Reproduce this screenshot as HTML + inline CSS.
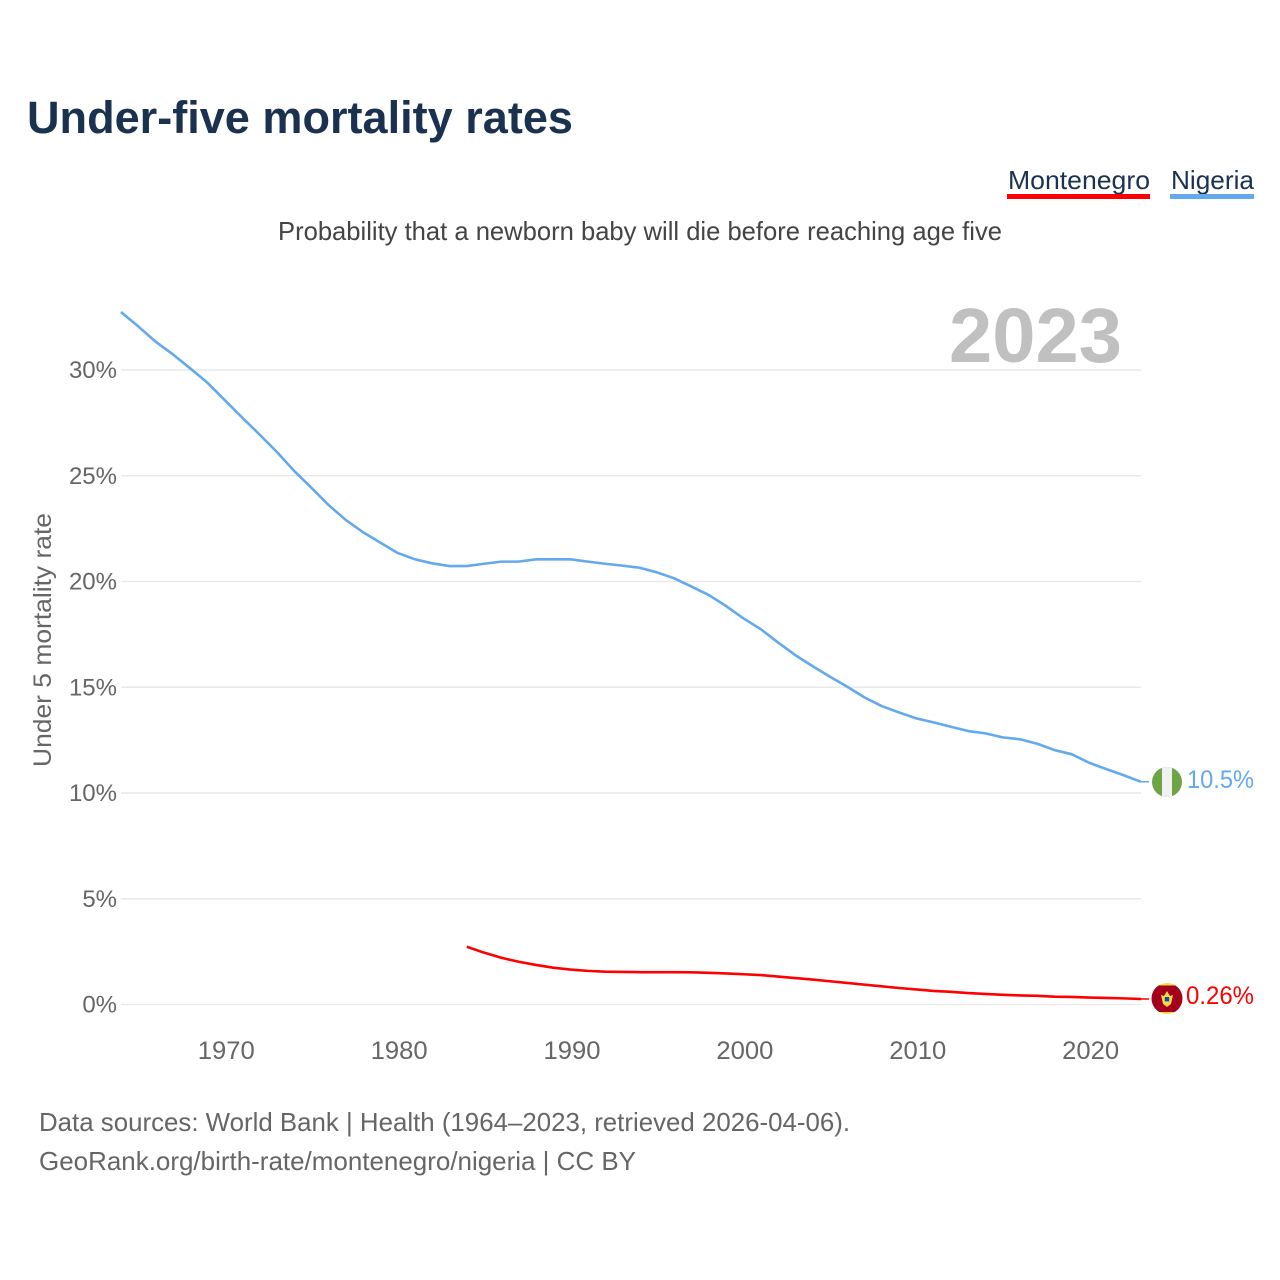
<!DOCTYPE html>
<html lang="en">
<head>
<meta charset="utf-8">
<title>Under-five mortality rates</title>
<style>
html,body{margin:0;padding:0;background:#fff;}
svg{display:block;}
text{font-family:"Liberation Sans",sans-serif;}
</style>
</head>
<body>
<svg id="chart" xmlns="http://www.w3.org/2000/svg" width="1280" height="1280" viewBox="0 0 1280 1280">
  <rect x="0" y="0" width="1280" height="1280" fill="#ffffff"/>
  <text x="27" y="133" font-size="45" font-weight="700" fill="#1a3150" textLength="546" lengthAdjust="spacingAndGlyphs">Under-five mortality rates</text>
  <text x="278" y="240" font-size="26" fill="#444444" textLength="724" lengthAdjust="spacingAndGlyphs">Probability that a newborn baby will die before reaching age five</text>
  <g>
    <text x="1008" y="189" font-size="26" fill="#1a3150" textLength="142" lengthAdjust="spacingAndGlyphs">Montenegro</text>
    <rect x="1007" y="194" width="143" height="5" fill="#ff0000"/>
  </g>
  <g>
    <text x="1171" y="189" font-size="26" fill="#1a3150" textLength="83" lengthAdjust="spacingAndGlyphs">Nigeria</text>
    <rect x="1170" y="194" width="84" height="5" fill="#63a9ee"/>
  </g>
  <g id="grid"></g>
  <g id="yticks"></g>
  <g id="xticks"></g>
  <text transform="translate(51,767) rotate(-90)" x="0" y="0" font-size="25" fill="#666666" textLength="254" lengthAdjust="spacingAndGlyphs">Under 5 mortality rate</text>
  <text x="949" y="362" font-size="77" font-weight="700" fill="#c0c0c0" textLength="173" lengthAdjust="spacingAndGlyphs">2023</text>
  <g id="series"></g>
  <g>
    <clipPath id="clip-ng"><circle cx="1167" cy="782" r="15"/></clipPath>
    <g clip-path="url(#clip-ng)">
      <rect x="1152" y="767" width="30" height="30" fill="#6da544"/>
      <rect x="1162" y="767" width="10" height="30" fill="#f0f0f0"/>
    </g>
  </g>
  <g>
    <clipPath id="clip-me"><circle cx="1167" cy="998.5" r="15.5"/></clipPath>
    <g clip-path="url(#clip-me)">
      <rect x="1151" y="983" width="32" height="32" fill="#ffda44"/>
      <rect x="1151" y="985.5" width="32" height="26.5" fill="#a2001d"/>
      <path d="M1161 995 L1164 996 L1167 991 L1170 996 L1173 995 L1171 1004 L1167 1007 L1163 1004 Z" fill="#ffda44"/>
      <rect x="1164.8" y="997" width="4.4" height="4.4" fill="#0052b4"/>
    </g>
  </g>
  <text x="1187" y="788" font-size="25" fill="#63a9ee" textLength="67" lengthAdjust="spacingAndGlyphs">10.5%</text>
  <text x="1186" y="1004" font-size="25" fill="#ff0000" textLength="68" lengthAdjust="spacingAndGlyphs">0.26%</text>
  <text x="39" y="1131" font-size="26" fill="#666666" textLength="811" lengthAdjust="spacingAndGlyphs">Data sources: World Bank | Health (1964–2023, retrieved 2026-04-06).</text>
  <text x="39" y="1170" font-size="26" fill="#666666" textLength="597" lengthAdjust="spacingAndGlyphs">GeoRank.org/birth-rate/montenegro/nigeria | CC BY</text>
</svg>
<script>
const startYear = 1964;
const endYear = 2023;
const yTickValues = [0, 5, 10, 15, 20, 25, 30];
const xTickYears = [1970, 1980, 1990, 2000, 2010, 2020];
const nigeriaStartYear = 1964;
const nigeriaValues = [32.74,32.06,31.34,30.74,30.08,29.4,28.58,27.76,26.96,26.14,25.24,24.44,23.62,22.91,22.33,21.84,21.35,21.05,20.86,20.73,20.73,20.84,20.94,20.94,21.05,21.05,21.05,20.94,20.84,20.75,20.65,20.43,20.15,19.76,19.36,18.84,18.26,17.75,17.12,16.52,16.0,15.5,15.03,14.52,14.11,13.81,13.53,13.34,13.13,12.93,12.82,12.63,12.54,12.33,12.03,11.83,11.43,11.13,10.84,10.53];
const montenegroStartYear = 1984;
const montenegroValues = [2.73,2.45,2.21,2.02,1.87,1.74,1.65,1.59,1.55,1.54,1.53,1.53,1.53,1.52,1.5,1.47,1.43,1.39,1.32,1.25,1.18,1.1,1.02,0.94,0.86,0.78,0.71,0.64,0.6,0.54,0.5,0.46,0.43,0.41,0.37,0.36,0.33,0.31,0.29,0.26];

const NS = 'http://www.w3.org/2000/svg';
const xLeft = 121, xRight = 1141;
const yZero = 1004.5, yPerUnit = 21.15;
function xScale(year) { return xLeft + (year - startYear) * (xRight - xLeft) / (endYear - startYear); }
function yScale(value) { return yZero - value * yPerUnit; }

const grid = document.getElementById('grid');
const yticks = document.getElementById('yticks');
const xticks = document.getElementById('xticks');
const series = document.getElementById('series');

yTickValues.forEach(function (v) {
  const line = document.createElementNS(NS, 'line');
  
  
  line.setAttribute('x1', xLeft);
  line.setAttribute('x2', xRight);
  line.setAttribute('y1', yScale(v));
  line.setAttribute('y2', yScale(v));
  line.setAttribute('stroke', '#e9e9e9');
  line.setAttribute('stroke-width', '1.4');
  grid.appendChild(line);

  const label = document.createElementNS(NS, 'text');
  
  
  label.setAttribute('x', 117);
  label.setAttribute('y', yScale(v) + 8);
  label.setAttribute('text-anchor', 'end');
  label.setAttribute('font-size', '24');
  label.setAttribute('fill', '#666666');
  label.textContent = v + '%';
  yticks.appendChild(label);
});

xTickYears.forEach(function (y) {
  const label = document.createElementNS(NS, 'text');
  
  
  label.setAttribute('x', xScale(y) + 1.5);
  label.setAttribute('y', 1059);
  label.setAttribute('text-anchor', 'middle');
  label.setAttribute('font-size', '25');
  label.setAttribute('fill', '#666666');
  label.setAttribute('textLength', '57');
  label.setAttribute('lengthAdjust', 'spacingAndGlyphs');
  label.textContent = y;
  xticks.appendChild(label);
});

function linePath(first, values) {
  return values.map(function (v, i) {
    return (i ? 'L' : 'M') + xScale(first + i).toFixed(2) + ' ' + yScale(v).toFixed(2);
  }).join(' ');
}

const nigeriaLine = document.createElementNS(NS, 'path');


nigeriaLine.setAttribute('d', linePath(nigeriaStartYear, nigeriaValues));
nigeriaLine.setAttribute('fill', 'none');
nigeriaLine.setAttribute('stroke', '#63a9ee');
nigeriaLine.setAttribute('stroke-width', '2.6');
nigeriaLine.setAttribute('stroke-linejoin', 'round');
series.appendChild(nigeriaLine);

const montenegroLine = document.createElementNS(NS, 'path');


montenegroLine.setAttribute('d', linePath(montenegroStartYear, montenegroValues));
montenegroLine.setAttribute('fill', 'none');
montenegroLine.setAttribute('stroke', '#ff0000');
montenegroLine.setAttribute('stroke-width', '2.6');
montenegroLine.setAttribute('stroke-linejoin', 'round');
series.appendChild(montenegroLine);

const nigeriaStub = document.createElementNS(NS, 'line');


nigeriaStub.setAttribute('x1', xRight);
nigeriaStub.setAttribute('x2', xRight + 8);
nigeriaStub.setAttribute('y1', yScale(nigeriaValues[nigeriaValues.length - 1]));
nigeriaStub.setAttribute('y2', yScale(nigeriaValues[nigeriaValues.length - 1]));
nigeriaStub.setAttribute('stroke', '#63a9ee');
nigeriaStub.setAttribute('stroke-width', '1.5');
series.appendChild(nigeriaStub);

const montenegroStub = document.createElementNS(NS, 'line');


montenegroStub.setAttribute('x1', xRight);
montenegroStub.setAttribute('x2', xRight + 8);
montenegroStub.setAttribute('y1', yScale(montenegroValues[montenegroValues.length - 1]));
montenegroStub.setAttribute('y2', yScale(montenegroValues[montenegroValues.length - 1]));
montenegroStub.setAttribute('stroke', '#ff0000');
montenegroStub.setAttribute('stroke-width', '1.5');
series.appendChild(montenegroStub);
</script>
</body>
</html>
